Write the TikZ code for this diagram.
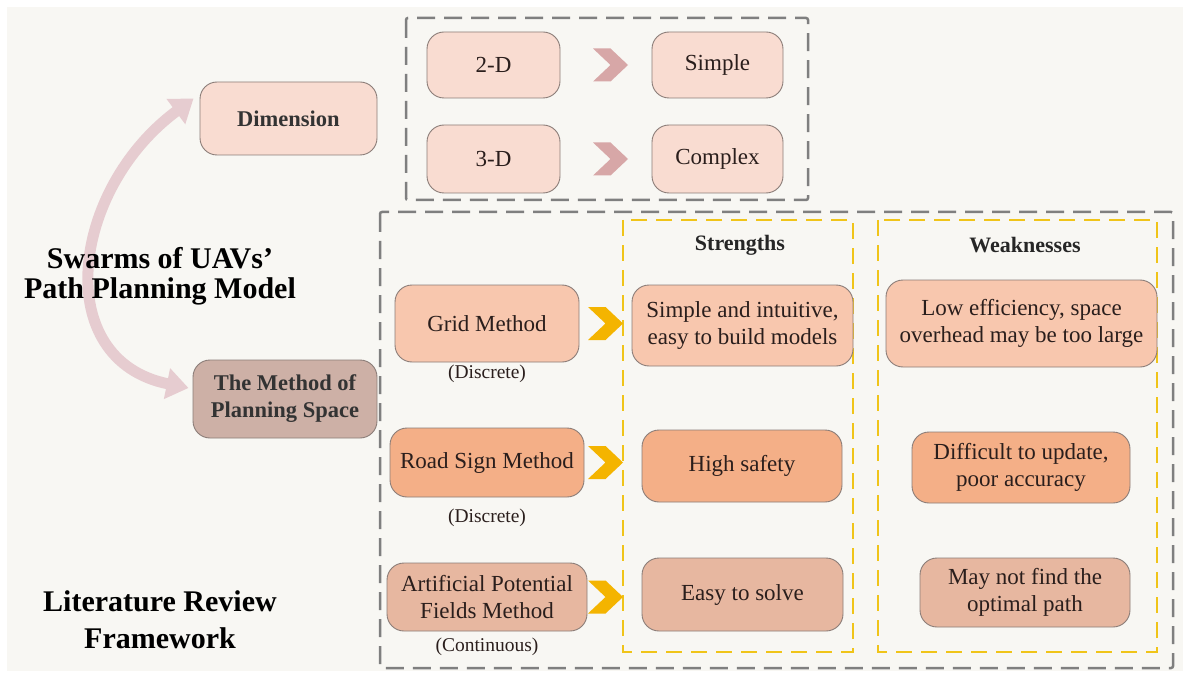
\documentclass[tikz,border=0pt]{standalone}
\usepackage{fontspec}
\setmainfont{Liberation Serif}
\usetikzlibrary{arrows.meta,calc}
\definecolor{paper}{HTML}{F8F7F3}
\definecolor{boxline}{HTML}{8B7D78}
\definecolor{txt}{HTML}{2A1E1C}
\definecolor{pinkA}{HTML}{F9DCD1}
\definecolor{salmonA}{HTML}{F8C7AE}
\definecolor{salmonB}{HTML}{F4AF87}
\definecolor{salmonC}{HTML}{E7B7A0}
\definecolor{taupe}{HTML}{CDB0A6}
\definecolor{dashgray}{HTML}{7F7F7F}
\definecolor{dashyellow}{HTML}{F0C419}
\definecolor{chevpink}{HTML}{D7A7A7}
\definecolor{chevyellow}{HTML}{F4B400}
\definecolor{arcpink}{HTML}{E6CCD0}
\tikzset{
  rbox/.style={draw=boxline, line width=0.9pt, rounded corners=17pt, align=center,
    inner sep=0pt, text=txt, font=\fontsize{23}{27}\selectfont},
  boldbox/.style={rbox, text=black!80, font=\bfseries\fontsize{22.5}{27}\selectfont},
  title/.style={align=center, text=black, font=\bfseries\fontsize{30}{30}\selectfont},
  head/.style={text=black!85, font=\bfseries\fontsize{22}{26}\selectfont},
  note/.style={text=txt, font=\fontsize{19.5}{22}\selectfont},
  graybox/.style={draw=dashgray, line width=2.5pt, dash pattern=on 18pt off 9pt, rounded corners=2pt},
  yellowbox/.style={draw=dashyellow, line width=2.5pt, dash pattern=on 16pt off 9pt},
  arcarrow/.style={draw=arcpink, line width=11pt,
    arrows={Triangle[width=30pt,length=22pt]-Triangle[width=30pt,length=22pt]}},
  chevron/.pic={\fill (-17.5,-16.5) -- (0,-16.5) -- (17.5,0) -- (0,16.5) -- (-17.5,16.5) -- (0,0) -- cycle;}
}
\begin{document}
\begin{tikzpicture}[x=1pt,y=-1pt]
\useasboundingbox (0,0) rectangle (1190,676);
\fill[white] (0,0) rectangle (1190,676);
\fill[paper] (7,7) rectangle (1183,671);

% the two branches of the model
\node[boldbox, fill=pinkA, minimum width=177pt, minimum height=73pt] (dim) at (288.5,118.5) {Dimension};
\node[boldbox, fill=taupe, minimum width=184pt, minimum height=78pt] (method) at (285,399) {The Method of\\Planning Space};

% curved double arrow joining the two branches
\draw[arcarrow] ([xshift=-6pt,yshift=20pt]dim.west) .. controls (70,190) and (50,360) .. ([xshift=-4pt,yshift=11pt]method.west);

\node[title] (swarm) at (160,276) {Swarms of UAVs’\\Path Planning Model};
\node[title, font=\bfseries\fontsize{30}{37}\selectfont] (lit) at (160,620) {Literature Review\\Framework};

% dimension group
\draw[graybox] (406,18) rectangle (808,200);
\node[rbox, fill=pinkA, minimum width=133pt, minimum height=66pt] (d2) at (493.5,65) {2-D};
\node[rbox, fill=pinkA, minimum width=131pt, minimum height=66pt] (simple) at (717.5,65) {Simple};
\node[rbox, fill=pinkA, minimum width=133pt, minimum height=68pt] (d3) at (493.5,159) {3-D};
\node[rbox, fill=pinkA, minimum width=131pt, minimum height=68pt] (complex) at (717.5,159) {Complex};
\coordinate (pinkx) at (610.5,0);
\pic[fill=chevpink] at (d2.east -| pinkx) {chevron};
\pic[fill=chevpink] at (d3.east -| pinkx) {chevron};

% planning space group
\draw[graybox] (380,212) rectangle (1173,668);
\draw[yellowbox] (623,220) rectangle (853,652);
\draw[yellowbox] (878,220) rectangle (1157,652);
\node[head] (str) at (740,245) {Strengths};
\node[head] (weak) at (1025,245) {Weaknesses};

\node[rbox, fill=salmonA, minimum width=184pt, minimum height=77pt] (grid) at (487,323.5) {Grid Method};
\node[note] (gridn) at (487,374) {(Discrete)};
\node[rbox, fill=salmonB, minimum width=194pt, minimum height=69pt] (road) at (487,462.5) {Road Sign Method};
\node[note] (roadn) at (487,518) {(Discrete)};
\node[rbox, fill=salmonC, minimum width=200pt, minimum height=68pt] (apf) at (487,597) {Artificial Potential\\Fields Method};
\node[note] (apfn) at (487,647) {(Continuous)};

\node[rbox, fill=salmonA, minimum width=221pt, minimum height=81pt] (s1) at (742.5,325.5) {Simple and intuitive,\\easy to build models};
\node[rbox, fill=salmonB, minimum width=200pt, minimum height=72pt] (s2) at (742,466) {High safety};
\node[rbox, fill=salmonC, minimum width=201pt, minimum height=73pt] (s3) at (742.5,594.5) {Easy to solve};

\node[rbox, fill=salmonA, minimum width=271pt, minimum height=87pt] (w1) at (1021.5,323.5) {Low efficiency, space\\overhead may be too large};
\node[rbox, fill=salmonB, minimum width=218pt, minimum height=71pt] (w2) at (1021,467.5) {Difficult to update,\\poor accuracy};
\node[rbox, fill=salmonC, minimum width=210pt, minimum height=69pt] (w3) at (1025,592.5) {May not find the\\optimal path};

\coordinate (yelx) at (605.5,0);
\pic[fill=chevyellow] at (grid.east -| yelx) {chevron};
\pic[fill=chevyellow] at (road.east -| yelx) {chevron};
\pic[fill=chevyellow] at (apf.east -| yelx) {chevron};
\end{tikzpicture}
\end{document}
